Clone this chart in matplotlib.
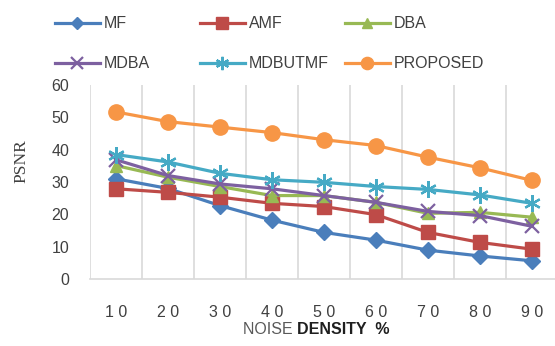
import matplotlib
matplotlib.use("Agg")
import matplotlib.pyplot as plt

densities = [10, 20, 30, 40, 50, 60, 70, 80, 90]
mf = [31.0, 28.0, 22.7, 18.2, 14.4, 12.0, 8.9, 7.1, 5.6]
amf = [27.9, 26.8, 25.3, 23.4, 22.4, 19.9, 14.4, 11.3, 9.2]
dba = [35.1, 31.5, 28.6, 25.8, 25.8, 23.7, 20.3, 20.6, 19.1]
mdba = [36.9, 32.0, 29.4, 27.9, 25.8, 23.7, 20.9, 19.6, 16.3]
mdbutmf = [38.5, 36.2, 32.7, 30.7, 29.9, 28.6, 27.7, 26.0, 23.4]
proposed = [51.7, 48.7, 47.0, 45.3, 43.1, 41.3, 37.7, 34.4, 30.5]
series_names = ["MF", "AMF", "DBA", "MDBA", "MDBUTMF", "PROPOSED"]
yticks = [0, 10, 20, 30, 40, 50, 60]

series = [mf, amf, dba, mdba, mdbutmf, proposed]
colors = ["#4A7EBB", "#BE4B48", "#98B954", "#7D60A0", "#46AAC5", "#F79646"]
markers = ["D", "s", "^", "x", (6, 2, 0), "o"]
msizes = [8, 10, 9, 10, 12, 11]

plt.rcParams['font.family'] = ['Liberation Sans', 'DejaVu Sans']
fig = plt.figure(figsize=(5.55, 3.46), dpi=100)
ax = fig.add_axes([0.162, 0.194, 0.843, 0.560])

x = list(range(len(densities)))
handles = []
for vals, c, m, ms, name in zip(series, colors, markers, msizes, series_names):
    mew = 1.6 if m in ("x",) or isinstance(m, tuple) else 1
    h, = ax.plot(x, vals, color=c, lw=2.3, marker=m, markersize=ms,
                 markeredgewidth=mew, markeredgecolor=c, markerfacecolor=c, label=name)
    handles.append(h)

ax.set_xlim(-0.5, len(densities) - 0.5)
ax.set_ylim(0, 60)
ax.set_yticks(yticks)
ax.set_yticklabels([str(v) for v in yticks], fontsize=11.5, color="#404040")
ax.set_xticks(x)
ax.set_xticklabels([" ".join(str(d)) for d in densities], fontsize=11.5, color="#404040")
ax.tick_params(axis='both', length=0)
ax.tick_params(axis='x', pad=19)
ax.tick_params(axis='y', pad=15)
for b in [i - 0.5 for i in range(len(densities) + 1)]:
    ax.axvline(b, color="#D9D9D9", lw=1.2, zorder=0)
for s in ["top", "right", "left"]:
    ax.spines[s].set_visible(False)
ax.spines["bottom"].set_color("#D9D9D9")
ax.spines["bottom"].set_linewidth(1.2)

fig.text(0.038, 0.535, "PSNR", rotation=90, ha="center", va="center",
         fontsize=12.5, family=["Liberation Serif"], color="#404040")
fig.text(0.535, 0.047, "NOISE ", ha="right", va="center", fontsize=11.5, color="#595959")
fig.text(0.535, 0.047, "DENSITY  %", ha="left", va="center", fontsize=11.5,
         color="#1F1F1F", fontweight="bold")

# legend entries: 3 columns, 2 rows (row-major order)
col_x = [55 / 555, 200 / 555, 345 / 555]
row_y = [1 - 24 / 346, 1 - 64 / 346]
for i, (h, name) in enumerate(zip(handles, series_names)):
    r, cidx = divmod(i, 3)
    leg = fig.legend([h], [name], loc="center left",
                     bbox_to_anchor=(col_x[cidx], row_y[r]), borderaxespad=0,
                     borderpad=0, frameon=False, fontsize=11.5, handlelength=2.8,
                     handletextpad=0.25, labelcolor="#404040", markerscale=0.8)

fig.savefig("out.png", dpi=100)
